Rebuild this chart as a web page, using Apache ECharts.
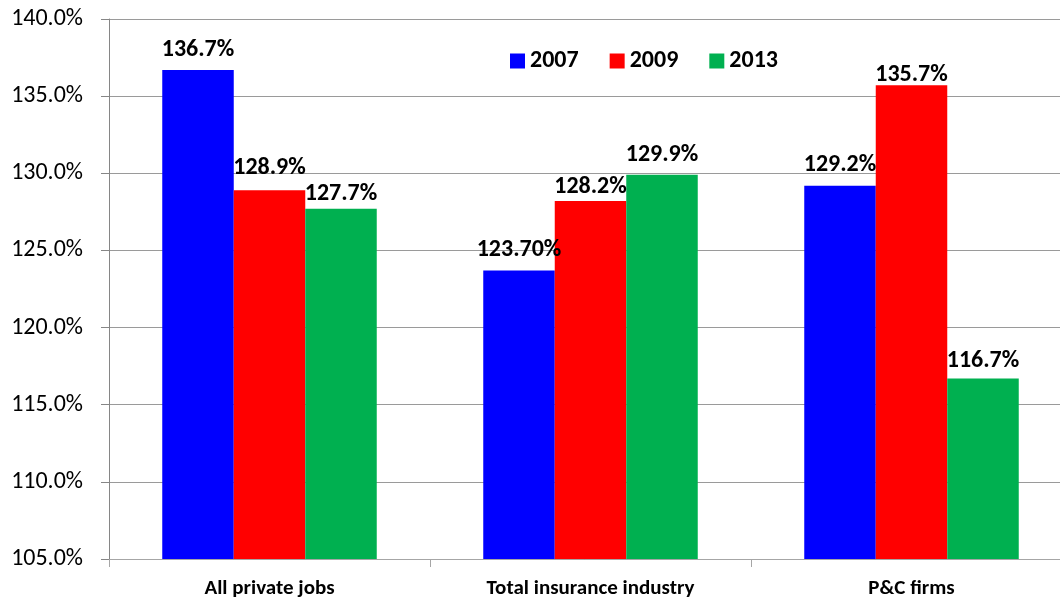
<!DOCTYPE html>
<html>
<head>
<meta charset="utf-8">
<script src="https://cdn.jsdelivr.net/npm/echarts@6/dist/echarts.min.js"></script>
<style>
  html, body { margin: 0; padding: 0; background: #fff; }
  #chart { width: 1060px; height: 601px; }
</style>
</head>
<body>
<div id="chart"></div>
<script>
// Employment growth index by sector
const categories = ['All private jobs', 'Total insurance industry', 'P&C firms'];
const years = ['2007', '2009', '2013'];
const values2007 = [136.7, 123.7, 129.2];
const values2009 = [128.9, 128.2, 135.7];
const values2013 = [127.7, 129.9, 116.7];
const labels2007 = ['136.7%', '123.70%', '129.2%'];
const labels2009 = ['128.9%', '128.2%', '135.7%'];
const labels2013 = ['127.7%', '129.9%', '116.7%'];
const yTicks = { min: 105, max: 140, step: 5 };

const FONT = 'Carlito, Lato, "Liberation Sans", sans-serif';
const colors = ['#0000FF', '#FF0000', '#00B050'];
// gap between each value label and its bar, per series
const labelGaps = [[8, 8, 9], [10, 2, -2], [3, 8, 5]];

function makeSeries(idx, values, labels) {
  return {
    name: years[idx],
    type: 'bar',
    data: values.map((v, i) => ({ value: v, label: { distance: labelGaps[idx][i] } })),
    barWidth: 71.5,
    barGap: '0%',
    itemStyle: { color: colors[idx] },
    label: {
      show: true,
      position: 'top',
      color: '#000',
      fontFamily: FONT,
      fontWeight: 'bold',
      fontSize: 24,
      formatter: p => labels[p.dataIndex]
    }
  };
}

const chart = echarts.init(document.getElementById('chart'), null, { renderer: 'canvas' });
chart.setOption({
  animation: false,
  backgroundColor: '#fff',
  color: colors,
  grid: { left: 109, top: 19, width: 963, height: 540, containLabel: false, outerBoundsMode: 'none' },
  legend: {
    data: years,
    left: 505,
    top: 44,
    itemWidth: 15,
    itemHeight: 15,
    itemGap: 31,
    icon: 'rect',
    textStyle: { fontFamily: FONT, fontWeight: 'bold', fontSize: 24, color: '#000' }
  },
  xAxis: {
    type: 'category',
    data: categories,
    axisLine: { show: true, lineStyle: { color: '#a6a6a6', width: 1 } },
    axisTick: { show: true, length: 8, lineStyle: { color: '#a6a6a6' } },
    axisLabel: { margin: 19, color: '#000', fontFamily: FONT, fontWeight: 'bold', fontSize: 21 }
  },
  yAxis: {
    type: 'value',
    min: yTicks.min,
    max: yTicks.max,
    interval: yTicks.step,
    axisLine: { show: true, lineStyle: { color: '#868686', width: 1 } },
    axisTick: { show: true, length: 8, lineStyle: { color: '#868686' } },
    splitLine: { show: true, lineStyle: { color: '#9a9a9a', width: 1 } },
    axisLabel: {
      margin: 26,
      color: '#000',
      fontFamily: FONT,
      fontSize: 24,
      formatter: v => v.toFixed(1) + '%'
    }
  },
  series: [
    makeSeries(0, values2007, labels2007),
    makeSeries(1, values2009, labels2009),
    makeSeries(2, values2013, labels2013)
  ]
});
</script>
</body>
</html>
